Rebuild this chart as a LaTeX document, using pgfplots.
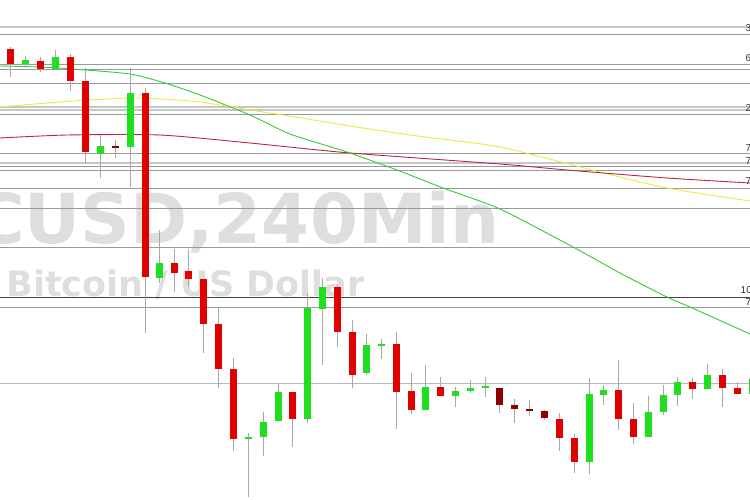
\documentclass[border=0pt]{standalone}
\usepackage{fontspec}
\setmainfont{Liberation Sans}
\newfontfamily\wmfont{DejaVu Sans}
\usepackage{pgfplots}
\usepackage{pgfplotstable}
\pgfplotsset{compat=1.18}

\definecolor{upc}{HTML}{1EE01E}
\definecolor{dnc}{HTML}{E00000}
\definecolor{drk}{HTML}{8E0000}
\definecolor{wick}{HTML}{A8A8A8}
\definecolor{lvl}{HTML}{9A9A9A}
\definecolor{mag}{HTML}{33CC33}
\definecolor{may}{HTML}{F2E640}
\definecolor{mar}{HTML}{B8283A}
\definecolor{wm}{HTML}{DEDEDE}

% positions in picture pixels, y measured from the top
% k: 1 up, 2 down, 3 dark down
\pgfplotstableread{
x   bt  bb  wt  wb  k
10  49  64  47  77  2
25  60  64  56  67  1
40  61  69  57  72  2
55  57  69  50  70  1
70  57  81  54  91  2
85  81  152 68  163 2
100 146 154 135 178 1
115 146 148 140 158 3
130 93  147 68  187 1
145 93  277 88  333 2
159 263 278 230 283 1
174 263 273 249 292 2
188 271 279 249 287 2
203 279 324 279 353 2
218 324 369 307 388 2
233 369 439 358 451 2
248 437 439 433 497 1
263 422 437 412 456 1
278 392 421 383 421 1
292 392 419 392 447 2
307 308 419 293 423 1
322 287 309 278 365 1
337 287 332 285 347 2
352 332 375 320 388 2
366 345 373 334 375 1
381 344 346 339 359 1
396 344 392 332 429 2
411 391 410 373 414 2
425 387 410 365 410 1
440 387 396 377 396 2
455 391 396 387 407 1
470 388 391 380 393 1
485 386 388 377 397 1
499 388 405 388 413 3
514 405 409 399 423 3
529 409 411 400 416 3
544 411 418 410 420 3
559 419 438 413 451 2
574 438 462 434 473 2
589 394 462 378 474 1
603 390 395 385 405 1
618 390 419 360 430 2
633 419 437 403 444 2
648 412 437 396 437 1
663 395 412 385 415 1
677 382 395 377 406 1
692 382 389 378 399 2
707 375 389 364 389 1
722 375 388 369 407 2
737 388 394 382 394 2
752 379 394 372 400 1
}\candles

\pgfplotsset{
  candle/.style n args={2}{only marks, mark=*, mark size=0pt,
    mark options={draw opacity=0, fill opacity=0},
    error bars/y dir=plus, error bars/y explicit, error bars/error mark=none,
    error bars/error bar style={draw=#1, line width=#2, opacity=1}},
}

\begin{document}
\begin{tikzpicture}
\begin{axis}[
    width=750pt, height=500pt, scale only axis,
    xmin=0, xmax=750, ymin=0, ymax=500,
    y dir=reverse,
    hide axis,
    clip=true,
]
% watermark
\node[anchor=base east, text=wm, font=\wmfont\bfseries\fontsize{69}{70}\selectfont]
    at (axis cs:503,243) {BTCUSD,240Min};
\node[anchor=base west, text=wm, font=\wmfont\bfseries\fontsize{35}{36}\selectfont]
    at (axis cs:3,296) {Bitcoin / US Dollar};

% horizontal levels
\pgfplotsinvokeforeach{34,64,69,83,114,153,166,170,188,208,247,307}{
  \addplot[lvl, line width=0.8pt, forget plot] coordinates {(0,#1) (760,#1)};
}
\pgfplotsinvokeforeach{27,107,110,163}{
  \addplot[black!22, line width=1.3pt, forget plot] coordinates {(0,#1) (760,#1)};
}
\addplot[black!75, line width=0.9pt] coordinates {(0,297) (760,297)};
\addplot[black!28, line width=1pt] coordinates {(0,383) (760,383)};

% moving averages
\addplot[may, line width=0.9pt, smooth, tension=0.4] coordinates {
(0,107) (73,101) (130,98) (160,99) (200,102) (250,110) (283,115) (350,126)
(417,136) (500,147) (600,172) (667,188) (750,201)};
\addplot[mar, line width=0.9pt, smooth, tension=0.4] coordinates {
(0,138) (67,135) (160,135) (250,143) (350,153) (500,164) (567,170) (667,178) (750,183)};
\addplot[mag, line width=0.9pt, smooth, tension=0.4] coordinates {
(0,66) (40,67) (73,69) (130,74) (165,83) (200,95) (250,115) (290,134) (347,152)
(397,170) (443,188) (500,209) (573,247) (620,273) (667,297) (690,307) (750,334)};

% wicks
\addplot[candle={wick}{0.8pt}]
    table[x=x, y=wt, y error plus expr=\thisrow{wb}-\thisrow{wt}] {\candles};
% bodies
\addplot[x filter/.expression={\thisrow{k}==1 ? x : nan}, candle={upc}{7pt}]
    table[x=x, y=bt, y error plus expr=\thisrow{bb}-\thisrow{bt}] {\candles};
\addplot[x filter/.expression={\thisrow{k}==2 ? x : nan}, candle={dnc}{7pt}]
    table[x=x, y=bt, y error plus expr=\thisrow{bb}-\thisrow{bt}] {\candles};
\addplot[x filter/.expression={\thisrow{k}==3 ? x : nan}, candle={drk}{7pt}]
    table[x=x, y=bt, y error plus expr=\thisrow{bb}-\thisrow{bt}] {\candles};

% price labels cut at the right edge
\begin{scope}[every node/.style={anchor=west, inner sep=0pt, font=\fontsize{10}{10}\selectfont, text=black!80}]
\node at (axis cs:745.5,28) {3};
\node at (axis cs:745.5,58) {6};
\node at (axis cs:745.5,108) {2};
\node at (axis cs:745.5,148) {7};
\node at (axis cs:745.5,161) {7};
\node at (axis cs:745.5,181) {7};
\node at (axis cs:740.5,290) {10};
\node at (axis cs:745.5,302) {7};
\end{scope}
\end{axis}
\pgfresetboundingbox
\path (current axis.south west) rectangle (current axis.north east);
\end{tikzpicture}
\end{document}
